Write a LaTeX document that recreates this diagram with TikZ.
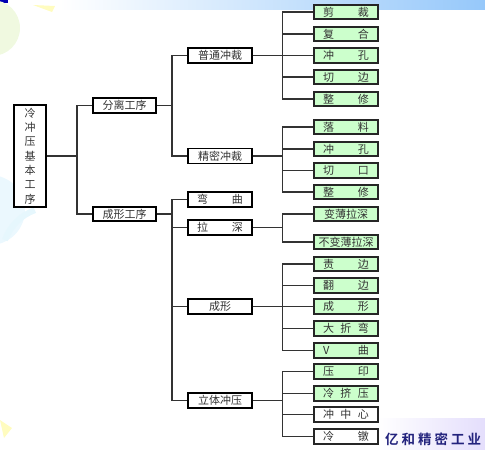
\documentclass[tikz,border=0pt]{standalone}
\usepackage{fontspec}
\setmainfont{Liberation Serif}
\newfontfamily\cjk[BoldFont={Noto Sans CJK SC Bold}]{Noto Sans CJK SC}
\definecolor{leafgreen}{RGB}{204,255,204}
\definecolor{txtgray}{RGB}{51,51,51}
\definecolor{wmblue}{RGB}{35,35,125}
\newcommand\hb[1]{\hbox to 46pt{#1}}
\tikzset{
  midbox/.style={draw=black, line width=1.2pt, fill=white, minimum width=64pt,
    minimum height=15pt, inner sep=0pt, text=txtgray,
    font=\cjk\fontsize{11}{13}\selectfont},
  leafbox/.style={draw=black!85, line width=1.6pt, fill=leafgreen, minimum width=64pt,
    minimum height=14.5pt, inner sep=0pt, text=txtgray,
    font=\cjk\fontsize{11}{13}\selectfont},
  wleaf/.style={leafbox, fill=white},
  conn/.style={draw=txtgray, line width=1.2pt},
}
\begin{document}
\begin{tikzpicture}[x=1pt,y=-1pt]
\useasboundingbox (0,0) rectangle (485,450);
\begin{scope}
\clip (0,0) rectangle (485,450);
% background decoration
\shade[left color=white, right color={rgb,255:red,150;green,200;blue,250}] (60,0) rectangle (485,9);
\fill[blue!70!black] (0,0) rectangle (8,2.5);
\fill[yellow!50!green!12] (-8,28) circle (28);
\fill[yellow!25] (33,5) -- (55,6) -- (52,12) -- cycle;
\fill[cyan!8] (-10,210) circle (35);
\draw[cyan!10, line width=6pt] (5,240) arc (200:250:50);
\fill[yellow!25] (0,420) -- (12,428) -- (4,438) -- cycle;
\shade[left color=white, right color={rgb,255:red,228;green,222;blue,252}] (378,418) rectangle (485,450);
\end{scope}
\node[anchor=west, inner sep=0pt, text=wmblue, font=\cjk\bfseries\fontsize{13.5}{14}\selectfont] (wm) at (385,439)
  {亿\kern3pt 和\kern3pt 精\kern3pt 密\kern3pt 工\kern3pt 业};

% nodes
\node[draw=black, line width=1.2pt, fill=white, minimum width=32pt, minimum height=102pt,
  inner sep=0pt, text=txtgray, align=center, font=\cjk\fontsize{11}{14.3}\selectfont]
  (root) at (30,156) {冷\\冲\\压\\基\\本\\工\\序};

\node[midbox, minimum width=63pt] (fl) at (124.5,105.5) {分离工序};
\node[midbox, minimum width=63pt, minimum height=14pt] (cx) at (124.5,214) {成形工序};

\node[midbox] (pt) at (220,55.5) {普通冲裁};
\node[midbox] (jm) at (220,156) {精密冲裁};
\node[midbox] (wq) at (220,199.5) {\hb{弯\hfill 曲}};
\node[midbox] (ls) at (220,227.5) {\hb{拉\hfill 深}};
\node[midbox] (cxb) at (220,306.5) {成形};
\node[midbox] (lt) at (220,400.5) {立体冲压};

\node[leafbox] (a1) at (346,12) {\hb{剪\hfill 裁}};
\node[leafbox] (a2) at (346,34) {\hb{复\hfill 合}};
\node[leafbox] (a3) at (346,55.5) {\hb{冲\hfill 孔}};
\node[leafbox] (a4) at (346,77) {\hb{切\hfill 边}};
\node[leafbox] (a5) at (346,99) {\hb{整\hfill 修}};

\node[leafbox] (b1) at (346,127) {\hb{落\hfill 料}};
\node[leafbox] (b2) at (346,149) {\hb{冲\hfill 孔}};
\node[leafbox] (b3) at (346,170.5) {\hb{切\hfill 口}};
\node[leafbox] (b4) at (346,192) {\hb{整\hfill 修}};

\node[leafbox] (c1) at (346,214) {变薄拉深};
\node[leafbox] (c2) at (346,242) {不变薄拉深};

\node[leafbox] (d1) at (346,264) {\hb{责\hfill 边}};
\node[leafbox] (d2) at (346,285.5) {\hb{翻\hfill 边}};
\node[leafbox] (d3) at (346,306.5) {\hb{成\hfill 形}};
\node[leafbox] (d4) at (346,328.5) {\hb{大\hfill 折\hfill 弯}};
\node[leafbox] (d5) at (346,350.5) {\hb{V\hfill 曲}};

\node[leafbox] (e1) at (346,371.5) {\hb{压\hfill 印}};
\node[leafbox] (e2) at (346,393.5) {\hb{冷\hfill 挤\hfill 压}};
\node[wleaf] (e3) at (346,414.5) {\hb{冲\hfill 中\hfill 心}};
\node[wleaf] (e4) at (346,436.5) {\hb{冷\hfill 镦}};

% junction columns
\coordinate (j0) at (77,0);
\coordinate (j1) at (172,0);
\coordinate (j2) at (282.5,0);

% connectors
\draw[conn] (root.east) -- (root.east -| j0);
\draw[conn] (fl.west) -- (fl.west -| j0) -- (cx.west -| j0) -- (cx.west);

\draw[conn] (fl.east) -- (fl.east -| j1);
\draw[conn] (pt.west) -- (pt.west -| j1) -- (jm.west -| j1) -- (jm.west);

\draw[conn] (cx.east) -- (cx.east -| j1);
\draw[conn] (wq.west) -- (wq.west -| j1) -- (lt.west -| j1) -- (lt.west);
\draw[conn] (ls.west) -- (ls.west -| j1);
\draw[conn] (cxb.west) -- (cxb.west -| j1);

\draw[conn] (pt.east) -- (pt.east -| j2);
\draw[conn] (a1.west) -- (a1.west -| j2) -- (a5.west -| j2) -- (a5.west);
\foreach \n in {a2,a3,a4} \draw[conn] (\n.west) -- (\n.west -| j2);

\draw[conn] (jm.east) -- (jm.east -| j2);
\draw[conn] (b1.west) -- (b1.west -| j2) -- (b4.west -| j2) -- (b4.west);
\foreach \n in {b2,b3} \draw[conn] (\n.west) -- (\n.west -| j2);

\draw[conn] (ls.east) -- (ls.east -| j2);
\draw[conn] (c1.west) -- (c1.west -| j2) -- (c2.west -| j2) -- (c2.west);

\draw[conn] (cxb.east) -- (cxb.east -| j2);
\draw[conn] (d1.west) -- (d1.west -| j2) -- (d5.west -| j2) -- (d5.west);
\foreach \n in {d2,d3,d4} \draw[conn] (\n.west) -- (\n.west -| j2);

\draw[conn] (lt.east) -- (lt.east -| j2);
\draw[conn] (e1.west) -- (e1.west -| j2) -- (e4.west -| j2) -- (e4.west);
\foreach \n in {e2,e3} \draw[conn] (\n.west) -- (\n.west -| j2);
\end{tikzpicture}
\end{document}
